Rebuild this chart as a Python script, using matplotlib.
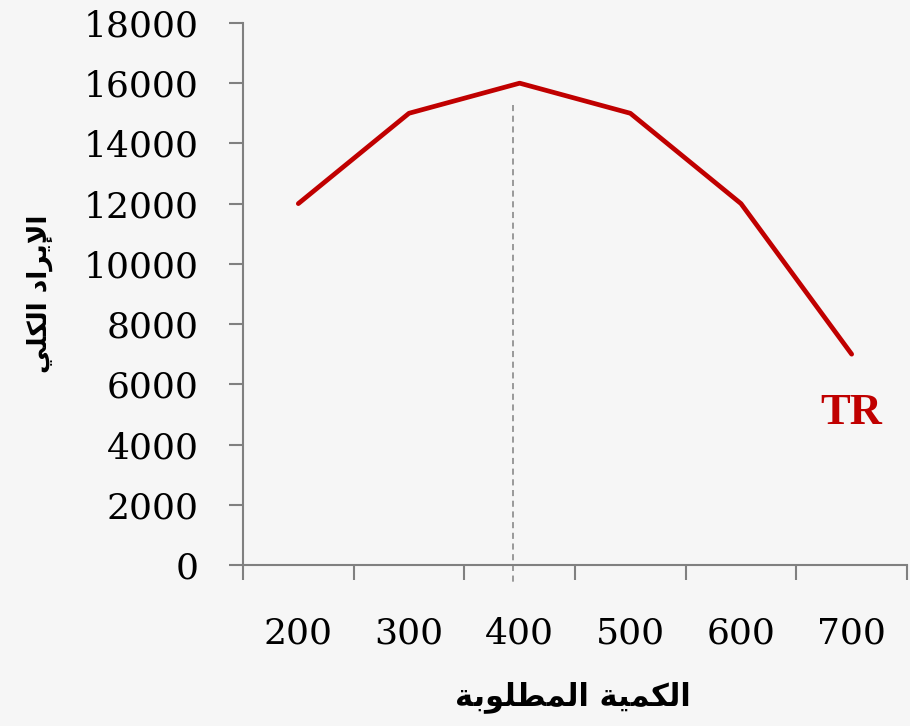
import matplotlib
matplotlib.use("Agg")
import matplotlib.pyplot as plt

# Data
quantities = ["200", "300", "400", "500", "600", "700"]
total_revenue = [12000, 15000, 16000, 15000, 12000, 7000]
y_ticks = [0, 2000, 4000, 6000, 8000, 10000, 12000, 14000, 16000, 18000]
series_label = "TR"

# Arabic labels, pre-shaped (presentation forms) in visual order
x_label_logical = "\uFE8D\uFEDF\uFEDC\uFEE4\uFEF4\uFE94 \uFE8D\uFEDF\uFEE4\uFEC4\uFEE0\uFEEE\uFE91\uFE94"  # الكمية المطلوبة
y_label_logical = "\uFEF9\uFEF3\uFEAE\uFE8D\uFEA9 \uFE8D\uFEDF\uFEDC\uFEE0\uFEF2"  # الإيراد الكلي
x_label = x_label_logical[::-1]
y_label = ("\uFE8D" + y_label_logical)[::-1]

bg = "#f6f6f6"
grey = "#808080"
red = "#c00000"

fig = plt.figure(figsize=(9.1, 7.26), dpi=100, facecolor=bg)
ax = fig.add_axes([0.267, 0.2218, 0.7297, 0.7466])
ax.set_facecolor("none")

xs = list(range(len(quantities)))
ax.plot(xs, total_revenue, color=red, lw=3.4, solid_capstyle="round", solid_joinstyle="round", zorder=3)

# dashed vertical marker near the maximum
ax.plot([1.94, 1.94], [15277, -600], color=grey, lw=1.1, ls=(0, (4, 3)), clip_on=False, zorder=2)

ax.set_xlim(-0.5, len(quantities) - 0.5)
ax.set_ylim(0, 18000)

ax.set_xticks(xs)
ax.set_xticklabels(quantities)
ax.set_xticks([i - 0.5 for i in range(len(quantities) + 1)], minor=True)
ax.tick_params(axis="x", which="major", length=0, pad=37)
ax.tick_params(axis="x", which="minor", length=11, width=1.5, color=grey, direction="out")

ax.set_yticks(y_ticks)
ax.tick_params(axis="y", which="major", length=10, width=1.5, color=grey, direction="out", pad=22)

for lbl in ax.get_xticklabels() + ax.get_yticklabels():
    lbl.set_fontfamily("DejaVu Serif")
    lbl.set_fontsize(26)
    lbl.set_color("black")

for s in ["top", "right"]:
    ax.spines[s].set_visible(False)
for s in ["left", "bottom"]:
    ax.spines[s].set_color(grey)
    ax.spines[s].set_linewidth(1.5)

ax.text(5.0, 5050, series_label, color=red, fontsize=32, fontweight="bold",
        family="Liberation Serif", ha="center", va="center")

fig.text(0.630, 0.040, x_label, fontsize=22, fontweight="bold",
         family=["DejaVu Sans"], ha="center", va="center")
fig.text(0.044, 0.595, y_label, fontsize=19, fontweight="bold", rotation=90,
         family=["DejaVu Sans"], ha="center", va="center")

fig.savefig("out.png", dpi=100, facecolor=bg)
